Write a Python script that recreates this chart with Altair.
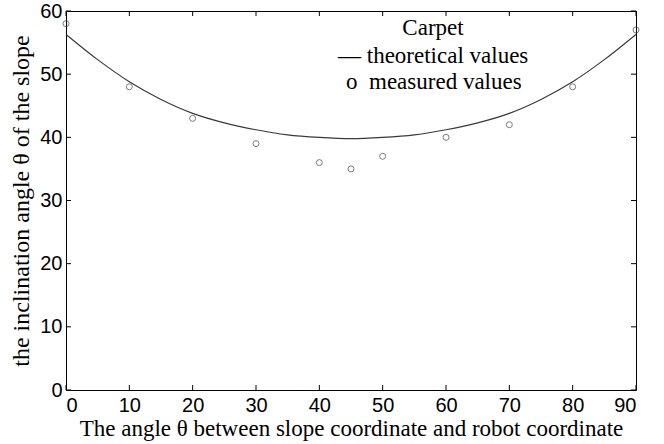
import altair as alt
import pandas as pd

# theoretical curve
theory_x = [0, 5, 10, 15, 20, 25, 30, 35, 40, 45, 50, 55, 60, 65, 70, 75, 80, 85, 90]
theory_y = [56.3, 52.3, 48.8, 46.0, 43.8, 42.3, 41.2, 40.4, 40.0, 39.8, 40.0, 40.4, 41.2, 42.3, 43.8, 46.0, 48.8, 52.3, 56.3]
# measured values
meas_x = [0, 10, 20, 30, 40, 45, 50, 60, 70, 80, 90]
meas_y = [58, 48, 43, 39, 36, 35, 37, 40, 42, 48, 57]
# ticks
x_ticks = [0, 10, 20, 30, 40, 50, 60, 70, 80, 90]
y_ticks = [0, 10, 20, 30, 40, 50, 60]
legend_text = ["Carpet", "\u2014 theoretical values", "o\u00a0\u00a0measured values"]

W, H = 570, 379
TK = 5

xs = alt.Scale(domain=[0, 90], nice=False, zero=False)
ys = alt.Scale(domain=[0, 60], nice=False, zero=False)

ax_x = alt.Axis(values=x_ticks, title="The angle \u03b8 between slope coordinate and robot coordinate",
                grid=False, ticks=False, domain=False, labelPadding=5, titlePadding=2,
                labelFont="Liberation Sans", labelFontSize=20, labelColor="black",
                titleFont="Liberation Serif", titleFontSize=23, titleFontWeight="normal", titleColor="black")
ax_y = alt.Axis(values=y_ticks, title="the inclination angle \u03b8 of the slope",
                grid=False, ticks=False, domain=False, labelPadding=4, titlePadding=6,
                labelFont="Liberation Sans", labelFontSize=20, labelColor="black",
                titleFont="Liberation Serif", titleFontSize=24, titleFontWeight="normal", titleColor="black")

theory = pd.DataFrame({"x": theory_x, "y": theory_y})
meas = pd.DataFrame({"x": meas_x, "y": meas_y})
xt = pd.DataFrame({"t": x_ticks})
yt = pd.DataFrame({"t": y_ticks})
leg = pd.DataFrame({"label": legend_text, "i": [0, 1, 2]})

line = alt.Chart(theory).mark_line(color="#3a3a3a", strokeWidth=1.2, interpolate="monotone").encode(
    x=alt.X("x:Q", scale=xs, axis=ax_x),
    y=alt.Y("y:Q", scale=ys, axis=ax_y),
)
pts = alt.Chart(meas).mark_point(shape="circle", filled=False, color="#444444", size=36, strokeWidth=1).encode(
    x=alt.X("x:Q", scale=xs, axis=ax_x),
    y=alt.Y("y:Q", scale=ys, axis=ax_y),
)

bt = alt.Chart(xt).mark_rule(color="black", strokeWidth=1).encode(
    x=alt.X("t:Q", scale=xs, axis=ax_x), y=alt.value(H), y2=alt.value(H - TK))
tt = alt.Chart(xt).mark_rule(color="black", strokeWidth=1).encode(
    x=alt.X("t:Q", scale=xs, axis=ax_x), y=alt.value(0), y2=alt.value(TK))
lt = alt.Chart(yt).mark_rule(color="black", strokeWidth=1).encode(
    y=alt.Y("t:Q", scale=ys, axis=ax_y), x=alt.value(0), x2=alt.value(TK))
rt = alt.Chart(yt).mark_rule(color="black", strokeWidth=1).encode(
    y=alt.Y("t:Q", scale=ys, axis=ax_y), x=alt.value(W), x2=alt.value(W - TK))

leg0 = alt.Chart(leg[leg.i == 0]).mark_text(font="Liberation Serif", fontSize=23, align="center",
                                            baseline="alphabetic", color="black").encode(
    text="label:N", x=alt.value(367), y=alt.value(24))
leg1 = alt.Chart(leg[leg.i == 1]).mark_text(font="Liberation Serif", fontSize=23, align="left",
                                            baseline="alphabetic", color="black").encode(
    text="label:N", x=alt.value(272), y=alt.value(52))
leg2 = alt.Chart(leg[leg.i == 2]).mark_text(font="Liberation Serif", fontSize=23, align="left",
                                            baseline="alphabetic", color="black").encode(
    text="label:N", x=alt.value(280), y=alt.value(78))

chart = alt.layer(line, pts, bt, tt, lt, rt, leg0, leg1, leg2).properties(
    width=W, height=H,
    autosize=alt.AutoSizeParams(type="none"),
    padding={"left": 66, "top": 11, "right": 28, "bottom": 54},
    background="white",
).configure_view(stroke="black", strokeWidth=1)

chart.save("out.html", embed_options={"renderer": "svg", "actions": False})
